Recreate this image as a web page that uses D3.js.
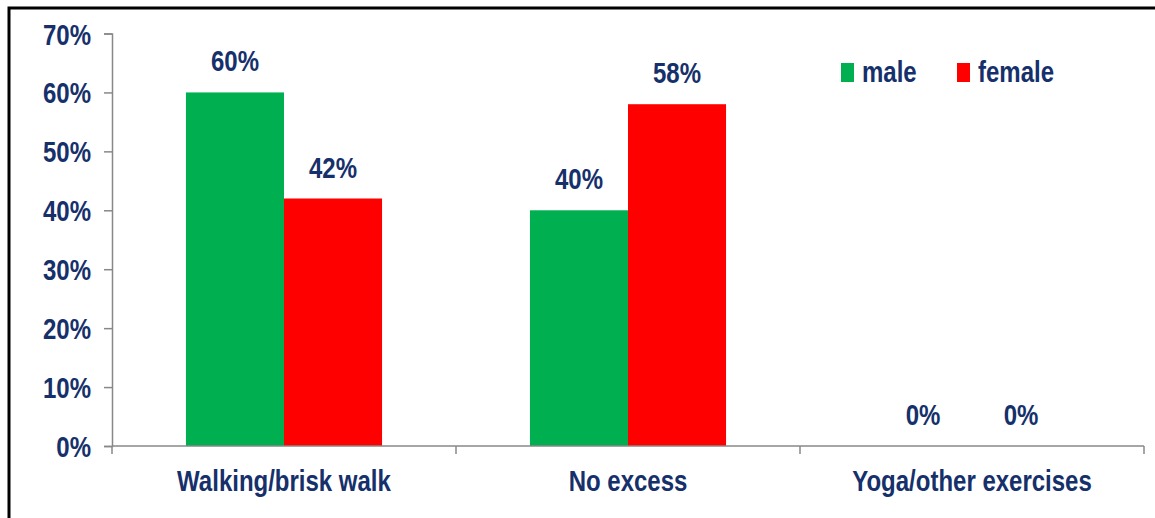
<!DOCTYPE html>
<html><head><meta charset="utf-8">
<script src="https://cdn.jsdelivr.net/npm/d3@7"></script>
<style>
html,body{margin:0;padding:0;background:#fff;}
text{font-family:"Liberation Sans","Arial",sans-serif;font-weight:bold;fill:#15306a;}
</style></head>
<body>
<svg id="c" width="1155" height="518"></svg>
<script>
const categories = ["Walking/brisk walk", "No excess", "Yoga/other exercises"];
const series = ["male", "female"];
const maleValues = [60, 40, 0];
const femaleValues = [42, 58, 0];
const yTicks = [0, 10, 20, 30, 40, 50, 60, 70];
const colors = {male: "#00b050", female: "#ff0000"};

(function () {
const FS = 30, SX = 0.8;
function squeeze(sel) {
  sel.each(function () {
    const t = d3.select(this);
    const x = +t.attr("x") || 0, yy = +t.attr("y") || 0;
    t.attr("x", 0).attr("y", 0).attr("transform", `translate(${x},${yy}) scale(${SX},1)`);
  });
}
const svg = d3.select("#c");
// chart border
svg.append("rect").attr("x", 9).attr("y", 8).attr("width", 1200).attr("height", 600)
  .attr("fill", "none").attr("stroke", "#000").attr("stroke-width", 3);

const mLeft = 112, mRight = 1144, mTop = 33.5, mBottom = 446;
const y = d3.scaleLinear().domain([0, 70]).range([mBottom, mTop]);
const x0 = d3.scaleBand().domain(categories).range([mLeft, mRight]).padding(0);
const bw = x0.bandwidth();
const x1 = d3.scaleBand().domain(series).range([bw * 0.215, bw * 0.785]).padding(0);

const data = categories.map((c, i) => ({cat: c, vals: [
  {s: "male", v: maleValues[i]}, {s: "female", v: femaleValues[i]}]}));

const g = svg.append("g");
const groups = g.selectAll("g.grp").data(data).join("g")
  .attr("transform", d => `translate(${x0(d.cat)},0)`);
groups.selectAll("rect").data(d => d.vals).join("rect")
  .attr("x", d => x1(d.s)).attr("width", x1.bandwidth())
  .attr("y", d => y(d.v)).attr("height", d => y(0) - y(d.v))
  .attr("fill", d => colors[d.s]);
const vals = groups.selectAll("text.val").data(d => d.vals).join("text").attr("class", "val")
  .attr("x", d => x1(d.s) + x1.bandwidth() / 2)
  .attr("y", d => y(d.v) - 21)
  .attr("text-anchor", "middle").attr("font-size", FS)
  .text(d => d.v + "%");
squeeze(vals);

// y axis
const ya = svg.append("g").attr("transform", `translate(${mLeft},0)`)
  .call(d3.axisLeft(y).tickValues(yTicks).tickFormat(d => d + "%").tickSize(8).tickPadding(13));
ya.select(".domain").attr("stroke", "#888").attr("stroke-width", 1.5);
ya.selectAll(".tick line").attr("stroke", "#888").attr("stroke-width", 1.5);
ya.selectAll(".tick text").attr("font-size", FS).attr("dy", "0.35em");
squeeze(ya.selectAll(".tick text"));

// x axis
const xa = svg.append("g").attr("transform", `translate(0,${mBottom})`)
  .call(d3.axisBottom(x0).tickSize(0).tickPadding(0));
xa.select(".domain").remove();
xa.append("line").attr("x1", mLeft).attr("x2", mRight).attr("y1", 0).attr("y2", 0)
  .attr("stroke", "#888").attr("stroke-width", 1.5);
const bounds = [mLeft].concat(categories.map(c => x0(c) + bw));
xa.selectAll("line.sep").data(bounds).join("line").attr("class", "sep")
  .attr("x1", d => d).attr("x2", d => d).attr("y1", 0).attr("y2", 8)
  .attr("stroke", "#888").attr("stroke-width", 1.5);
xa.selectAll(".tick text").attr("font-size", FS).attr("y", 45).attr("dy", 0);
squeeze(xa.selectAll(".tick text"));

// legend
const leg = svg.append("g");
const legX = [841, 957];
series.forEach((s, i) => {
  leg.append("rect").attr("x", legX[i]).attr("y", 63).attr("width", 13).attr("height", 19)
    .attr("fill", colors[s]);
  squeeze(leg.append("text").attr("x", legX[i] + 21).attr("y", 82).attr("font-size", FS).text(s));
});
})();
</script>
</body></html>
